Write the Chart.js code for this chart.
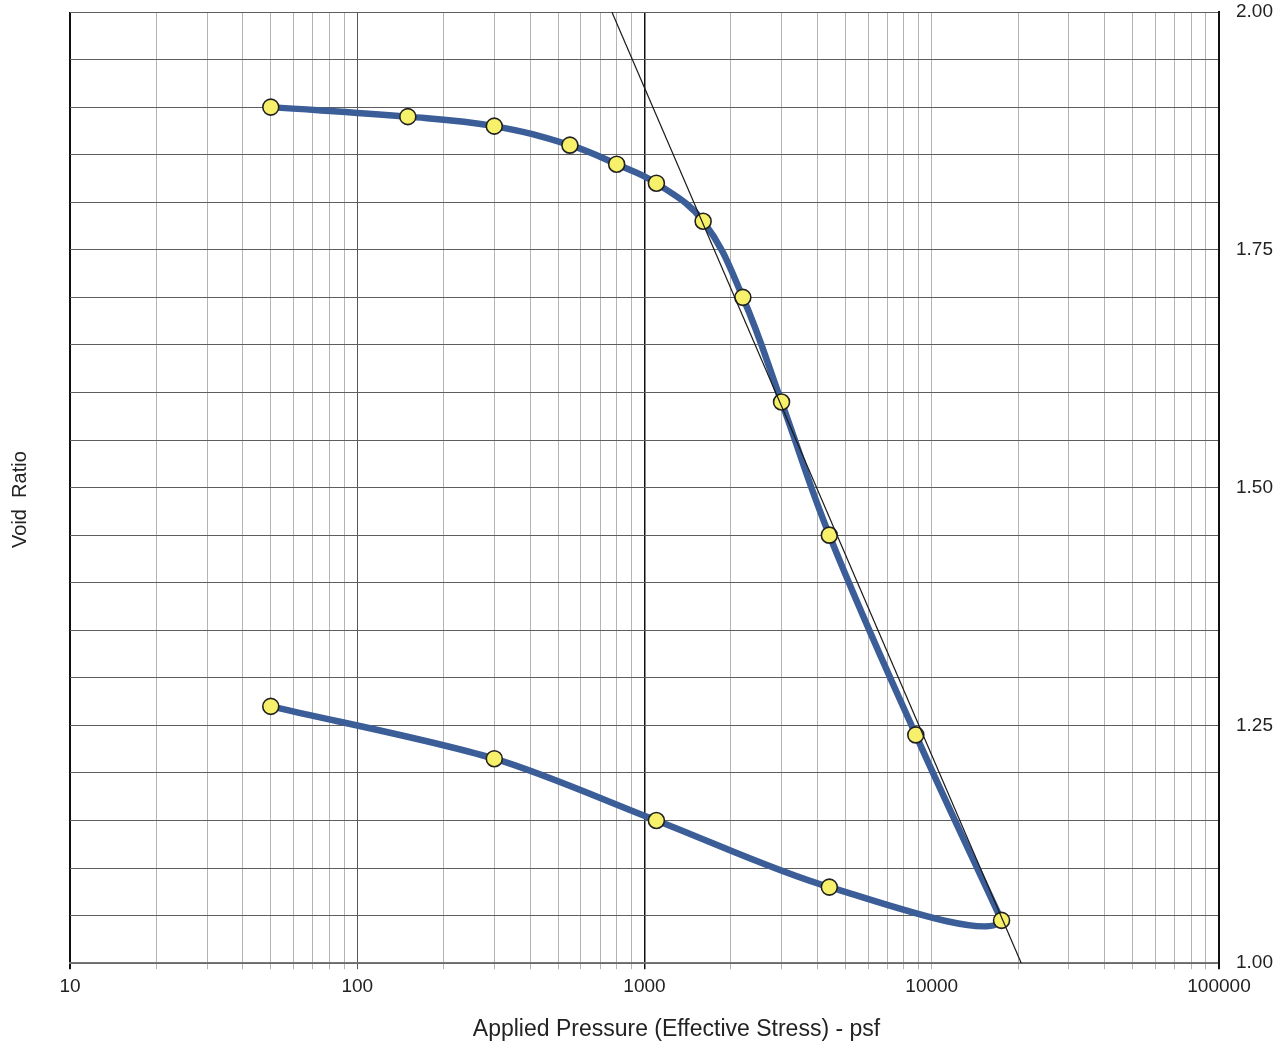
<!DOCTYPE html>
<html>
<head>
<meta charset="utf-8">
<script src="https://cdn.jsdelivr.net/npm/chart.js@4.4.1/dist/chart.umd.min.js"></script>
<style>
  html, body { margin: 0; padding: 0; background: #fff; }
  #wrap { width: 1286px; height: 1046px; }
</style>
</head>
<body>
<div id="wrap"><canvas id="chart" width="1286" height="1046"></canvas></div>
<script>
//Test data
const loadPressure = [50, 150, 300, 550, 800, 1100, 1600, 2200, 3000, 4400, 8800, 17500];
const loadVoid = [1.90, 1.89, 1.88, 1.86, 1.84, 1.82, 1.78, 1.70, 1.59, 1.45, 1.24, 1.045];
const unloadPressure = [4400, 1100, 300, 50];
const unloadVoid = [1.08, 1.15, 1.215, 1.27];
//Straight construction line
const linePressure = [770, 20500];
const lineVoid = [2.0, 1.0];
//Axis ticks
const xDecades = [10, 100, 1000, 10000, 100000];
const yLabels = [1.0, 1.25, 1.5, 1.75, 2.0];
const xTitle = "Applied Pressure (Effective Stress) - psf";
const yTitle = "Void  Ratio";

//Build x grid ticks 1..9 per decade
const xGrid = [];
for (let d = 0; d < xDecades.length - 1; d++) {
  for (let m = 1; m < 10; m++) xGrid.push(xDecades[d] * m);
}
xGrid.push(xDecades[xDecades.length - 1]);
const yGrid = [];
for (let i = 0; i <= 20; i++) yGrid.push(Math.round((1 + i * 0.05) * 100) / 100);

const toPts = (xs, ys) => xs.map((x, i) => ({ x: x, y: ys[i] }));
const n = loadPressure.length;
//Unloading branch starts from the last two loading points so the spline
//turns round smoothly; its first segment is not drawn
const unloadPts = toPts(loadPressure.slice(n - 2), loadVoid.slice(n - 2)).concat(
  toPts(unloadPressure, unloadVoid)
);

const font = "'Liberation Sans', Arial, sans-serif";
const curveColor = "#3b5d98";

//Axis titles drawn by hand (the x title sits off-centre in the original)
const axisTitles = {
  id: "axisTitles",
  afterDraw(chart) {
    const ctx = chart.ctx;
    const area = chart.chartArea;
    ctx.save();
    ctx.fillStyle = "#222";
    ctx.textAlign = "center";
    ctx.textBaseline = "middle";
    ctx.font = "23px " + font;
    ctx.fillText(xTitle, (area.left + area.right) / 2 + 32, 1030);
    ctx.translate(20, (area.top + area.bottom) / 2 + 12);
    ctx.rotate(-Math.PI / 2);
    ctx.font = "20px " + font;
    ctx.fillText(yTitle, 0, 0);
    ctx.restore();
  },
};

const config = {
  type: "scatter",
  data: {
    datasets: [
      {
        data: toPts(linePressure, lineVoid),
        showLine: true,
        borderColor: "#1a1a1a",
        borderWidth: 1.2,
        pointRadius: 0,
        order: 0,
      },
      {
        data: toPts(loadPressure, loadVoid),
        showLine: true,
        tension: 0.4,
        borderColor: curveColor,
        borderWidth: 6.5,
        pointRadius: 8,
        pointBackgroundColor: "#f6f06a",
        pointBorderColor: "#222",
        pointBorderWidth: 1.6,
        order: 1,
      },
      {
        data: unloadPts,
        showLine: true,
        tension: 0.3,
        borderColor: curveColor,
        borderWidth: 6.5,
        segment: {
          borderColor: (c) => (c.p0DataIndex === 0 ? "rgba(0,0,0,0)" : undefined),
        },
        pointRadius: (c) => (c.dataIndex < 2 ? 0 : 8),
        pointBackgroundColor: "#f6f06a",
        pointBorderColor: "#222",
        pointBorderWidth: 1.6,
        order: 2,
      },
    ],
  },
  options: {
    responsive: false,
    animation: false,
    devicePixelRatio: 1,
    layout: { padding: { top: 12, right: 0, left: 70, bottom: 42 } },
    plugins: { legend: { display: false }, tooltip: { enabled: false } },
    scales: {
      x: {
        type: "logarithmic",
        min: 10,
        max: 100000,
        afterBuildTicks: (axis) => {
          axis.ticks = xGrid.map((v) => ({ value: v }));
        },
        ticks: {
          autoSkip: false,
          maxRotation: 0,
          padding: 6,
          color: "#222",
          font: { family: font, size: 19 },
          callback: (v) => (xDecades.includes(v) ? String(v) : ""),
        },
        grid: {
          tickLength: 6,
          color: (c) => {
            const v = c.tick && c.tick.value;
            if (v === 10 || v === 100000 || v === 1000) return "#111";
            if (v === 100) return "#555";
            return "#b4b4b4";
          },
          lineWidth: (c) => {
            const v = c.tick && c.tick.value;
            if (v === 10 || v === 100000) return 2;
            if (v === 1000) return 1.5;
            return 1;
          },
        },
        border: { display: true, color: "#777", width: 1.5 },
      },
      y: {
        position: "right",
        min: 1,
        max: 2,
        afterBuildTicks: (axis) => {
          axis.ticks = yGrid.map((v) => ({ value: v }));
        },
        afterFit: (axis) => {
          axis.paddingTop = 0;
          axis.paddingBottom = 0;
          axis.width = 67;
        },
        ticks: {
          autoSkip: false,
          padding: 17,
          color: "#222",
          font: { family: font, size: 19 },
          callback: (v) => (yLabels.some((l) => Math.abs(l - v) < 1e-6) ? v.toFixed(2) : ""),
        },
        grid: {
          drawTicks: false,
          color: "#5e5e5e",
          lineWidth: 1,
        },
        border: { display: true, color: "#111", width: 2 },
      },
    },
  },
  plugins: [axisTitles],
};

new Chart(document.getElementById("chart").getContext("2d"), config);
</script>
</body>
</html>
